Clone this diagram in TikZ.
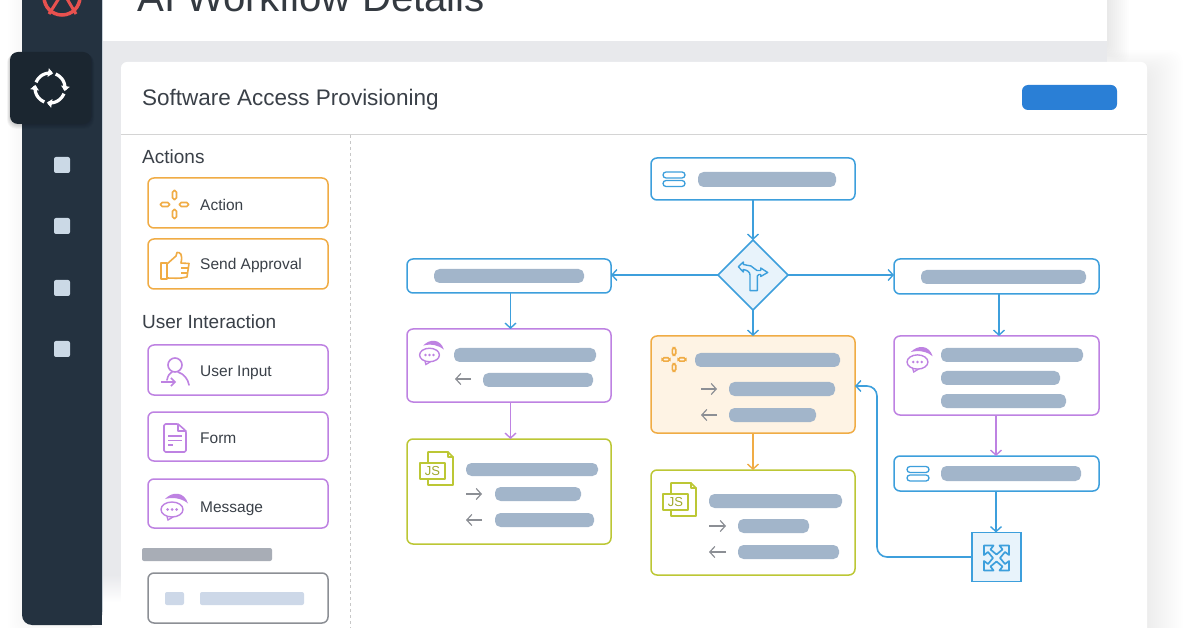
\documentclass[tikz,border=0pt]{standalone}
\usepackage{fontspec}
\setmainfont{Liberation Sans}
\usetikzlibrary{arrows.meta,shapes.geometric,calc}
\definecolor{side}{HTML}{243240}
\definecolor{sideact}{HTML}{1B2630}
\definecolor{sq}{HTML}{CBD9E6}
\definecolor{cblue}{HTML}{3D9FDC}
\definecolor{cpurple}{HTML}{BE82E2}
\definecolor{corange}{HTML}{F0AC45}
\definecolor{colive}{HTML}{BCC735}
\definecolor{cgray}{HTML}{8C8F95}
\definecolor{barc}{HTML}{A2B5CA}
\definecolor{ink}{HTML}{3A4048}
\definecolor{lblue}{HTML}{E8F3FB}
\definecolor{lorange}{HTML}{FEF3E4}
\definecolor{band}{HTML}{E8E9EC}
\definecolor{btn}{HTML}{2A7FD6}
\definecolor{rline}{HTML}{E8514F}
\definecolor{paleb}{HTML}{CDD8E8}
\definecolor{graybar}{HTML}{A8ADB6}
\tikzset{
  cardbox/.style={draw,line width=1.5pt,rounded corners=6pt,fill=white,inner sep=0pt,outer sep=0pt},
  conn/.style={line width=1.6pt,-{Straight Barb[length=5pt,width=11pt,line width=1.4pt]}},
  smallarr/.style={cgray,line width=1.2pt,-{Straight Barb[length=5pt,width=11pt,line width=1.2pt]}},
  lab/.style={anchor=base west,inner sep=0pt,text=ink},
  iconline/.style={line width=1.6pt,line join=round,line cap=round},
  pics/stackicon/.style={code={
    \draw[cblue,line width=1.3pt,rounded corners=3pt] (-11,-7) rectangle (11,-1);
    \draw[cblue,line width=1.3pt,rounded corners=3pt] (-11,1.5) rectangle (11,7.5);}},
  pics/crossicon/.style={code={
    \draw[corange,line width=1.6pt,rounded corners=1.8pt] (-2,-14) rectangle (2,-5);
    \draw[corange,line width=1.6pt,rounded corners=1.8pt] (-2,5) rectangle (2,14);
    \draw[corange,line width=1.6pt,rounded corners=1.8pt] (-14,-2) rectangle (-5,2);
    \draw[corange,line width=1.6pt,rounded corners=1.8pt] (5,-2) rectangle (14,2);}},
  pics/msgicon/.style={code={
    \draw[cpurple,line width=1.4pt] (0,0) ellipse[x radius=11pt,y radius=7.5pt];
    \draw[cpurple,line width=1.3pt] (-5,7) -- (-4,10.5) -- (1,7.5);
    \fill[cpurple] (-4.5,0) circle[radius=1.5pt] (0,0) circle[radius=1.5pt] (4.5,0) circle[radius=1.5pt];
    \fill[cpurple] (-7,-10.5) .. controls (0,-18) and (12,-18.5) .. (16,-6) .. controls (11,-10.5) and (2,-13) .. cycle;}},
  pics/jsicon/.style={code={
    \draw[colive,iconline] (8,11) -- (8,0) -- (28,0) -- (33,5) -- (33,33) -- (8,33) -- (8,27);
    \draw[colive,iconline] (28,0) -- (28,5) -- (33,5);
    \draw[colive,iconline,fill=white] (0,11) rectangle (25,27);
    \node[inner sep=0pt,text=colive!85!black] (#1) at (12.5,19) {\fontsize{13}{14}\selectfont JS};}},
}
\newcommand{\bx}[6]{\node[cardbox,#6,minimum width={(#4-#2)*1pt},minimum height={(#5-#3)*1pt}] (#1) at ({(#2+#4)/2},{(#3+#5)/2}) {};}
\newcommand{\gbar}[4]{\fill[barc,rounded corners=5.5pt] (#1,#2) rectangle (#3,#4);}
\newcommand{\larr}[3]{\draw[smallarr] (#2,#3) -- (#1,#3);}
\newcommand{\rarr}[3]{\draw[smallarr] (#1,#3) -- (#2,#3);}
\begin{document}
\begin{tikzpicture}[x=1pt,y=-1pt]
\useasboundingbox (0,0) rectangle (1200,628);
\fill[white] (0,0) rectangle (1200,628);
% soft shadows, built from stacked faint layers
\foreach \d in {2,4,...,36}
  \fill[black,opacity=.005,rounded corners=12pt] (121,{72-\d*.6}) rectangle ({1147+\d},660);
\foreach \d in {2,4,...,22}
  \fill[black,opacity=.006,rounded corners=8pt] (104,-20) rectangle ({1107+\d},{50+\d*.6});
\foreach \d in {2,4,...,14}
  \fill[black,opacity=.004,rounded corners=10pt] ({22-\d},-20) rectangle (102,{625+\d});
\fill[band] (103,41) rectangle (1107,575);
\shade[top color=band,bottom color=white] (103,575) rectangle (1107,602);
% top panel
\fill[white] (104,-10) rectangle (1107,41);
\node[lab,text=ink!90!black] (title) at (137,12) {\fontsize{40.2}{44}\selectfont AI Workflow Details};
% sidebar
\fill[sq!60!white] (102,-20) rectangle (103.2,612);
\fill[side,rounded corners=10pt] (22,-20) rectangle (102,625);
\fill[side] (60,-20) rectangle (102,625);
\draw[rline,line width=3.5pt] (62,-3) circle[radius=18pt];
\draw[rline,line width=3pt] (49,14) -- (63,-8) -- (76,14);
\foreach \d in {1,2,...,6}
  \fill[black,opacity=.03,rounded corners=9pt] ({10-\d*.5},{52+\d*.3}) rectangle ({91+\d*.5},{124+\d*.8});
\fill[sideact,rounded corners=8pt] (10,52) rectangle (91,124);
\foreach \a/\b in {-158/-78,-68/12,22/102,112/192}
  \draw[white,line width=3.2pt,-{Triangle[length=5pt,width=8.5pt]}] plot[domain=\a:\b,samples=14] ({50+15*cos(\x)},{88+15*sin(\x)});
\foreach \y in {165,226,288,349}
  \fill[sq,rounded corners=2pt] (54,\y-8) rectangle (70,\y+8);
% card
\fill[white,rounded corners=6pt] (121,62) rectangle (1147,640);
\node[lab] (head) at (142,106) {\fontsize{22.5}{26}\selectfont Software Access Provisioning};
\draw[black!17,line width=1pt] (121,135) -- (1147,135);
\draw[black!22,line width=.8pt,dash pattern=on 3pt off 3pt] (350,135) -- (350,628);
\fill[btn,rounded corners=6pt] (1022,85) rectangle (1117,110);
% palette
\node[lab] (actions) at (142,164) {\fontsize{19}{22}\selectfont Actions};
\bx{pAction}{148}{178}{328}{228}{draw=corange}
\bx{pApprove}{148}{239}{328}{289}{draw=corange}
\node[lab] (uint) at (142,329) {\fontsize{19}{22}\selectfont User Interaction};
\bx{pInput}{148}{345}{328}{395}{draw=cpurple}
\bx{pForm}{148}{412}{328}{461}{draw=cpurple}
\bx{pMsg}{148}{479}{328}{528}{draw=cpurple}
\node[lab] (l1) at (200,211) {\fontsize{15.5}{18}\selectfont Action};
\node[lab] (l2) at (200,270) {\fontsize{15.5}{18}\selectfont Send Approval};
\node[lab] (l3) at (200,377) {\fontsize{15.5}{18}\selectfont User Input};
\node[lab] (l4) at (200,443) {\fontsize{15.5}{18}\selectfont Form};
\node[lab] (l5) at (200,512) {\fontsize{15.5}{18}\selectfont Message};
\pic at (174.5,204.5) {crossicon};
% thumb
\draw[corange,iconline] (161,263) rectangle (167,279);
\draw[corange,iconline] (167,264) -- (176,256) -- (177,252.5) .. controls (180,252) and (183,254) .. (181,263) -- (189,263.5) -- (187,277) .. controls (180,279) and (172,278) .. (167,278);
\draw[corange,line width=1.2pt] (181,268) -- (188,268) (181,273) -- (187,273);
% user input icon
\draw[cpurple,iconline] (175,365) circle[radius=7pt];
\draw[cpurple,iconline] (167,380) .. controls (168,375) and (170,373) .. (172,372);
\draw[cpurple,iconline] (178,372) .. controls (184,374) and (188,379) .. (189,385);
\draw[cpurple,line width=1.5pt,-{Straight Barb[length=4pt,width=8pt]}] (161,382) -- (176,382);
% form icon
\draw[cpurple,iconline,rounded corners=1.5pt] (164,424) -- (178,424) -- (186,431) -- (186,452) -- (164,452) -- cycle;
\draw[cpurple,iconline] (178,424) -- (178,431) -- (186,431);
\draw[cpurple,line width=1.2pt] (168,436) -- (182,436) (168,440.5) -- (182,440.5) (168,445) -- (173,445);
\pic at (172,509.5) {msgicon};
\fill[graybar,rounded corners=2pt] (142,548) rectangle (272,561);
\bx{pOther}{148}{573}{328}{623}{draw=cgray}
\fill[paleb,rounded corners=2pt] (165,592) rectangle (184,605);
\fill[paleb,rounded corners=2pt] (200,592) rectangle (304,605);
% flow nodes
\bx{top}{651}{158}{855}{200}{draw=cblue}
\node[draw=cblue,fill=lblue,line width=1.6pt,shape=diamond,aspect=1,inner sep=0pt,outer sep=0pt,minimum width=70pt,minimum height=70pt] (dia) at (753,275) {};
\bx{left}{407}{259}{611}{293}{draw=cblue}
\bx{right}{894}{259}{1099}{294}{draw=cblue}
\bx{lmsg}{407}{329}{611}{402}{draw=cpurple}
\bx{act}{651}{336}{855}{433}{draw=corange,fill=lorange}
\bx{rmsg}{894}{336}{1099}{415}{draw=cpurple}
\bx{ljs}{407}{439}{611}{544}{draw=colive}
\bx{mjs}{651}{470}{855}{575}{draw=colive}
\bx{rstack}{894}{456}{1099}{491}{draw=cblue}
\node[draw=cblue,fill=lblue,line width=1.6pt,inner sep=0pt,outer sep=0pt,minimum size=49pt] (swap) at (996.5,557) {};
% node contents
\pic at (674,179) {stackicon}; \gbar{698}{172}{836}{187}
\gbar{434}{269}{584}{283}
\gbar{921}{270}{1086}{284}
\pic[scale=.9] at (429.5,355) {msgicon};
\gbar{454}{348}{596}{362} \larr{455}{471}{379} \gbar{483}{373}{593}{387}
\pic[scale=.85] at (674,359.5) {crossicon};
\gbar{695}{353}{840}{367} \rarr{701}{717}{389} \gbar{729}{382}{835}{396} \larr{701}{717}{415} \gbar{729}{408}{816}{422}
\pic at (420,452) {jsicon=js1};
\gbar{466}{463}{598}{476} \rarr{466}{482}{494} \gbar{495}{487}{581}{501} \larr{466}{482}{520} \gbar{495}{513}{594}{527}
\pic at (663,483) {jsicon=js2};
\gbar{709}{494}{842}{508} \rarr{709}{726}{526} \gbar{738}{519}{809}{533} \larr{709}{726}{552} \gbar{738}{545}{839}{559}
\pic[scale=.95] at (917.5,362) {msgicon};
\gbar{941}{348}{1083}{362} \gbar{941}{371}{1060}{385} \gbar{941}{394}{1066}{408}
\pic at (918,473.5) {stackicon}; \gbar{941}{466}{1081}{481}
% diamond icon
\draw[cblue,line width=1.4pt,line join=round] (743.3,262) -- (743.3,264.5) -- (751,266) .. controls (754,267) and (755,270.5) .. (757,270.5) -- (760.7,270.5) -- (760.7,268) -- (767.7,272.5) -- (760.7,276.5) -- (760.7,274.5) -- (759,274.5) .. controls (758,274.5) and (757.3,275) .. (757.3,276) -- (757.3,290.7) -- (750,290.7) -- (750,275) .. controls (750,272) and (747,270) .. (743.3,269.5) -- (743.3,272) -- (738.3,266.7) -- cycle;
% swap icon
\draw[cblue,line width=1.7pt,line join=round,shift={(996.5,558)}] (-12.5,-12.5) -- (-3,-12.5) -- (-6,-8.5) -- (0,-3.5) -- (6,-8.5) -- (3,-12.5) -- (12.5,-12.5) -- (12.5,-3) -- (8.5,-6) -- (3.5,0) -- (8.5,6) -- (12.5,3) -- (12.5,12.5) -- (3,12.5) -- (6,8.5) -- (0,3.5) -- (-6,8.5) -- (-3,12.5) -- (-12.5,12.5) -- (-12.5,3) -- (-8.5,6) -- (-3.5,0) -- (-8.5,-6) -- (-12.5,-3) -- cycle;
% connectors
\coordinate (xl) at (510.5,0);
\coordinate (xr) at (999,0);
\coordinate (xm) at (996,0);
\coordinate (back) at (877,386);
\draw[conn,cblue] (top.south) -- (dia.north);
\draw[conn,cblue] (dia.west) -- (left.east |- dia.west);
\draw[conn,cblue] (dia.east) -- (right.west |- dia.east);
\draw[conn,cblue] (dia.south) -- (act.north -| dia.south);
\draw[conn,cblue] (left.south -| xl) -- (lmsg.north -| xl);
\draw[conn,cpurple] (lmsg.south -| xl) -- (ljs.north -| xl);
\draw[conn,corange] (act.south) -- (mjs.north);
\draw[conn,cblue] (right.south -| xr) -- (rmsg.north -| xr);
\draw[conn,cpurple] (rmsg.south -| xm) -- (rstack.north -| xm);
\draw[conn,cblue] (rstack.south -| xm) -- (swap.north -| xm);
\draw[conn,cblue,rounded corners=10pt] (swap.west) -- (swap.west -| back) -- (back) -- (act.east |- back);
\end{tikzpicture}
\end{document}
